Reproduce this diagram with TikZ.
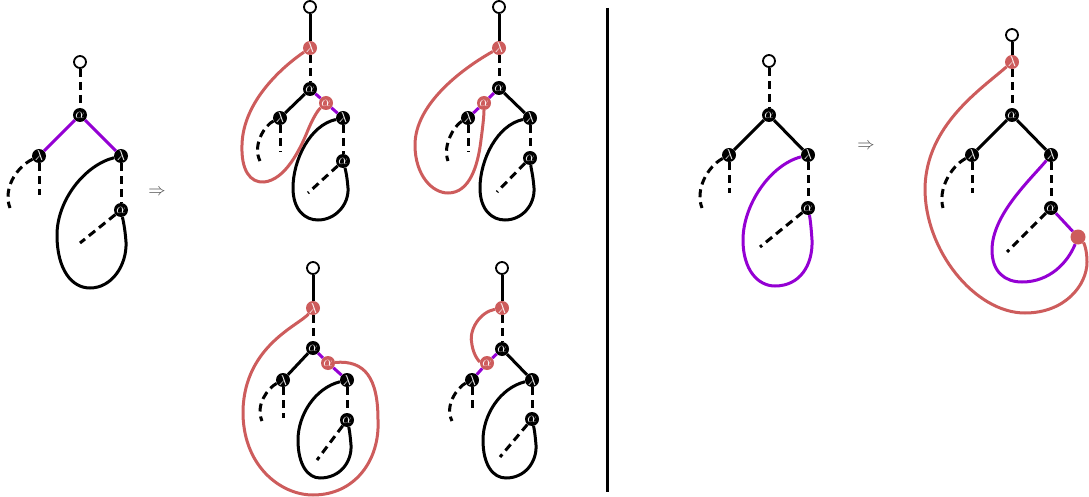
\documentclass[tikz,border=0pt]{standalone}
\usepackage{amsmath}
\usepackage{amssymb}
\usepackage{tikz}
\definecolor{rloop}{RGB}{205,92,92}
\definecolor{pviolet}{RGB}{148,0,211}
\tikzset{
	lam/.style={circle, fill=black, text=white, inner sep=0pt, minimum size=14pt, font=\Large},
	rlam/.style={lam, fill=rloop},
	rootc/.style={circle, draw, line width=1.8pt, fill=white, inner sep=0pt, minimum size=12pt},
	tedge/.style={line width=3pt},
	dedge/.style={line width=3pt, dash pattern=on 8pt off 5pt},
	pedge/.style={line width=3pt, draw=pviolet},
	redge/.style={line width=3pt, draw=rloop},
	implies/.style={text=black!70, font=\LARGE}
}

\begin{document}
\begin{tikzpicture}[x=1pt,y=-1pt]
	\useasboundingbox (0,0) rectangle (1089,497);

	\node[rootc](r0) at (80,62){};
	\node[lam](a0) at (80,115){$\alpha$};
	\node[lam](ll0) at (39,156){$\lambda$};
	\node[lam](rl0) at (121,156){$\lambda$};
	\node[lam](la0) at (121,210){$\alpha$};
	\coordinate(lv0) at (39,195);
	\coordinate(lc0) at (10,208);
	\coordinate(ld0) at (80,243);

	\draw[dedge] (r0)--(a0);
	\draw[pedge] (a0)--(ll0);
	\draw[pedge] (a0)--(rl0);
	\draw[dedge] (rl0)--(la0);
	\draw[dedge] (ll0)--(lv0);
	\draw[dedge] (ll0) .. controls (15,168) and (3,190) .. (lc0);
	\draw[dedge] (la0)--(ld0);
	\draw[tedge] (rl0) .. controls (85,165) and (57,200) .. (57,235) .. controls (57,270) and (72,288) .. (90,288) .. controls (112,288) and (127,265) .. (126,242) .. controls (125,228) and (123,220) .. (la0);

	\node[implies](imp1) at (157,192){$\Rightarrow$};

	\node[rootc](r1) at (310,7){};
	\node[rlam](lr1) at (310,48){$\lambda$};
	\node[lam](a1) at (310,89){$\alpha$};
	\node[rlam](ra1) at (326,103){$\alpha$};
	\node[lam](ll1) at (280,118){$\lambda$};
	\node[lam](rl1) at (343,118){$\lambda$};
	\node[lam](la1) at (343,161){$\alpha$};
	\coordinate(lv1) at (280,152);
	\coordinate(lc1) at (260,161);
	\coordinate(ld1) at (308,193);

	\draw[tedge] (r1)--(lr1);
	\draw[dedge] (lr1)--(a1);
	\draw[tedge] (a1)--(ll1);
	\draw[pedge] (a1)--(ra1)--(rl1);
	\draw[dedge] (rl1)--(la1);
	\draw[dedge] (ll1)--(lv1);
	\draw[dedge] (ll1) .. controls (265,125) and (252,145) .. (lc1);
	\draw[dedge] (la1)--(ld1);
	\draw[tedge] (rl1) .. controls (310,125) and (293,160) .. (293,188) .. controls (293,210) and (305,220) .. (318,220) .. controls (335,220) and (349,205) .. (348,188) .. controls (347,175) and (345,168) .. (la1);
	\draw[redge] (lr1) .. controls (285,65) and (243,100) .. (242,145) .. controls (241,170) and (250,183) .. (264,182) .. controls (285,180) and (300,150) .. (308,130) .. controls (313,118) and (318,110) .. (ra1);

	\node[rootc](r2) at (499,7){};
	\node[rlam](lr2) at (499,48){$\lambda$};
	\node[lam](a2) at (499,88){$\alpha$};
	\node[rlam](ra2) at (484,103){$\alpha$};
	\node[lam](ll2) at (468,118){$\lambda$};
	\node[lam](rl2) at (530,118){$\lambda$};
	\node[lam](la2) at (530,158){$\alpha$};
	\coordinate(lv2) at (468,152);
	\coordinate(lc2) at (448,161);
	\coordinate(ld2) at (497,192);

	\draw[tedge] (r2)--(lr2);
	\draw[dedge] (lr2)--(a2);
	\draw[pedge] (a2)--(ra2)--(ll2);
	\draw[tedge] (a2)--(rl2);
	\draw[dedge] (rl2)--(la2);
	\draw[dedge] (ll2)--(lv2);
	\draw[dedge] (ll2) .. controls (455,125) and (442,145) .. (lc2);
	\draw[dedge] (la2)--(ld2);
	\draw[tedge] (rl2) .. controls (497,125) and (480,160) .. (480,188) .. controls (480,210) and (492,220) .. (505,220) .. controls (522,220) and (535,205) .. (534,188) .. controls (533,175) and (531,168) .. (la2);
	\draw[redge] (lr2) .. controls (460,70) and (415,105) .. (415,145) .. controls (415,175) and (432,193) .. (448,193) .. controls (470,193) and (478,165) .. (481,140) .. controls (483,125) and (484,115) .. (ra2);

	\node[rootc](r3) at (313,268){};
	\node[rlam](lr3) at (313,308){$\lambda$};
	\node[lam](a3) at (313,348){$\alpha$};
	\node[rlam](ra3) at (328,363){$\alpha$};
	\node[lam](ll3) at (283,380){$\lambda$};
	\node[lam](rl3) at (347,380){$\lambda$};
	\node[lam](la3) at (347,420){$\alpha$};
	\coordinate(lv3) at (283,418);
	\coordinate(lc3) at (262,421);
	\coordinate(ld3) at (317,460);

	\draw[tedge] (r3)--(lr3);
	\draw[dedge] (lr3)--(a3);
	\draw[tedge] (a3)--(ll3);
	\draw[pedge] (a3)--(ra3)--(rl3);
	\draw[dedge] (rl3)--(la3);
	\draw[dedge] (ll3)--(lv3);
	\draw[dedge] (ll3) .. controls (268,388) and (255,405) .. (lc3);
	\draw[dedge] (la3)--(ld3);
	\draw[tedge] (rl3) .. controls (315,388) and (298,415) .. (298,440) .. controls (298,465) and (308,478) .. (320,478) .. controls (340,478) and (352,462) .. (351,445) .. controls (350,433) and (349,428) .. (la3);
	\draw[redge] (lr3) .. controls (300,325) and (245,345) .. (243,410) .. controls (242,465) and (280,495) .. (313,495) .. controls (355,495) and (380,460) .. (378,420) .. controls (378,378) and (365,360) .. (ra3);

	\node[rootc](r4) at (502,268){};
	\node[rlam](lr4) at (502,308){$\lambda$};
	\node[lam](a4) at (502,349){$\alpha$};
	\node[rlam](ra4) at (487,363){$\alpha$};
	\node[lam](ll4) at (472,380){$\lambda$};
	\node[lam](rl4) at (532,380){$\lambda$};
	\node[lam](la4) at (532,419){$\alpha$};
	\coordinate(lv4) at (472,410);
	\coordinate(lc4) at (452,421);
	\coordinate(ld4) at (500,457);

	\draw[tedge] (r4)--(lr4);
	\draw[dedge] (lr4)--(a4);
	\draw[pedge] (a4)--(ra4)--(ll4);
	\draw[tedge] (a4)--(rl4);
	\draw[dedge] (rl4)--(la4);
	\draw[dedge] (ll4)--(lv4);
	\draw[dedge] (ll4) .. controls (458,387) and (444,405) .. (lc4);
	\draw[dedge] (la4)--(ld4);
	\draw[tedge] (rl4) .. controls (500,388) and (483,415) .. (483,440) .. controls (483,465) and (493,478) .. (506,478) .. controls (525,478) and (537,462) .. (536,445) .. controls (535,433) and (534,428) .. (la4);
	\draw[redge] (lr4) .. controls (480,312) and (468,330) .. (472,345) .. controls (474,357) and (480,362) .. (ra4);

	\coordinate(dtop) at (607,8);
	\coordinate(dbot) at (607,492);
	\draw[line width=3pt] (dtop)--(dbot);

	\node[rootc](r5) at (769,61){};
	\node[lam](a5) at (769,115){$\alpha$};
	\node[lam](ll5) at (729,155){$\lambda$};
	\node[lam](rl5) at (808,155){$\lambda$};
	\node[lam](la5) at (808,208){$\alpha$};
	\coordinate(lv5) at (729,193);
	\coordinate(lc5) at (702,208);
	\coordinate(ld5) at (760,247);

	\draw[dedge] (r5)--(a5);
	\draw[tedge] (a5)--(ll5);
	\draw[tedge] (a5)--(rl5);
	\draw[dedge] (rl5)--(la5);
	\draw[dedge] (ll5)--(lv5);
	\draw[dedge] (ll5) .. controls (707,167) and (695,190) .. (lc5);
	\draw[dedge] (la5)--(ld5);
	\draw[pedge] (rl5) .. controls (770,165) and (743,205) .. (743,240) .. controls (743,270) and (758,286) .. (775,286) .. controls (800,286) and (813,265) .. (812,240) .. controls (811,225) and (810,218) .. (la5);

	\node[implies](imp2) at (866,146){$\Rightarrow$};

	\node[rootc](r6) at (1012,35){};
	\node[rlam](lr6) at (1012,62){$\lambda$};
	\node[lam](a6) at (1012,115){$\alpha$};
	\node[lam](ll6) at (972,155){$\lambda$};
	\node[lam](rl6) at (1051,155){$\lambda$};
	\node[lam](la6) at (1051,208){$\alpha$};
	\node[circle, fill=rloop, inner sep=0pt, minimum size=15pt](rd6) at (1078,237){};
	\coordinate(lv6) at (972,193);
	\coordinate(lc6) at (943,208);
	\coordinate(ld6) at (1007,252);

	\draw[tedge] (r6)--(lr6);
	\draw[dedge] (lr6)--(a6);
	\draw[tedge] (a6)--(ll6);
	\draw[tedge] (a6)--(rl6);
	\draw[dedge] (rl6)--(la6);
	\draw[dedge] (ll6)--(lv6);
	\draw[dedge] (ll6) .. controls (950,167) and (938,190) .. (lc6);
	\draw[dedge] (la6)--(ld6);
	\draw[pedge] (la6)--(rd6);
	\draw[pedge] (rl6) .. controls (1030,180) and (992,215) .. (992,250) .. controls (992,272) and (1005,282) .. (1022,282) .. controls (1050,282) and (1068,262) .. (rd6);
	\draw[redge] (lr6) .. controls (980,90) and (927,125) .. (925,187) .. controls (924,250) and (975,313) .. (1025,313) .. controls (1065,313) and (1087,285) .. (1087,262) .. controls (1087,250) and (1084,243) .. (rd6);
\end{tikzpicture}
\end{document}
